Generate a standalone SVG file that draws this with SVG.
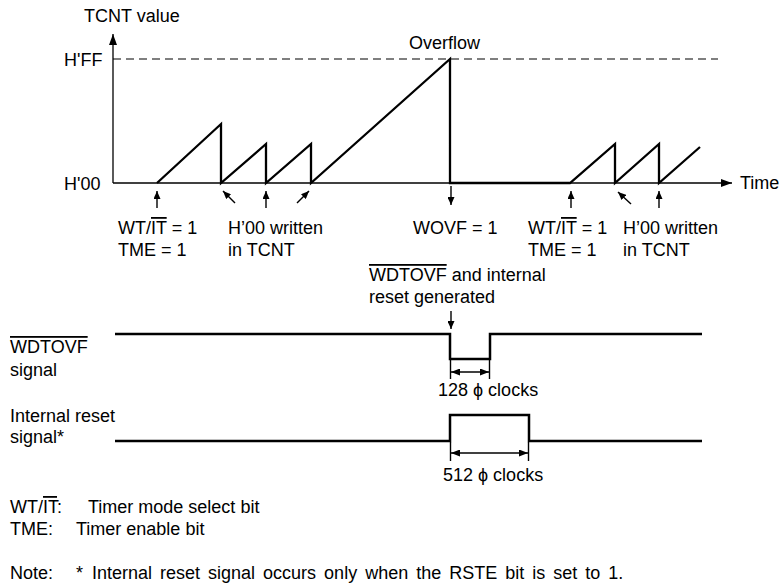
<svg xmlns="http://www.w3.org/2000/svg" width="783" height="587" viewBox="0 0 783 587">
<style>
text{font-family:"Liberation Sans",Arial,sans-serif;font-size:18px;fill:#000}
.ol{text-decoration:overline}
.ax{stroke:#000;stroke-width:1.3;fill:none}
.saw{stroke:#000;stroke-width:2.3;fill:none;stroke-linejoin:miter}
.sig{stroke:#000;stroke-width:2.5;fill:none}
.ar{stroke:#000;stroke-width:1.4;fill:none}
</style>
<defs>
<marker id="big" viewBox="0 0 11 8" refX="11" refY="4" markerWidth="11" markerHeight="8" markerUnits="userSpaceOnUse" orient="auto"><path d="M0,0 L11,4 L0,8 z" fill="#000"/></marker>
<marker id="sm" viewBox="0 0 8 7" refX="8" refY="3.5" markerWidth="8" markerHeight="7" markerUnits="userSpaceOnUse" orient="auto"><path d="M0,0 L8,3.5 L0,7 z" fill="#000"/></marker>
<marker id="dim" viewBox="0 0 9 7" refX="9" refY="3.5" markerWidth="9" markerHeight="7" markerUnits="userSpaceOnUse" orient="auto-start-reverse"><path d="M0,0 L9,3.5 L0,7 z" fill="#000"/></marker>
</defs>

<g id="axes">
<line class="ax" x1="113" y1="183" x2="113" y2="34" marker-end="url(#big)"/>
<line class="ax" x1="113" y1="183" x2="732" y2="183" marker-end="url(#big)"/>
<line x1="113" y1="59" x2="718" y2="59" stroke="#000" stroke-width="1.2" stroke-dasharray="8,5"/>
<text x="84" y="22">TCNT value</text>
<text x="64" y="66">H'FF</text>
<text x="64" y="190">H'00</text>
<text x="740" y="189">Time</text>
<text x="409" y="49">Overflow</text>
</g>

<g id="tcnt-count">
<path class="saw" d="M157,183 L221,124 L221,183 L266,144 L266,183 L311,144 L311,183 L450,59 L450,183 L570,183 L615,144 L615,183 L659,144 L659,183 L700,147"/>
</g>

<g id="connectors">
<line class="ar" x1="157" y1="208" x2="157" y2="191" marker-end="url(#sm)"/>
<line class="ar" x1="235" y1="203" x2="223" y2="191" marker-end="url(#sm)"/>
<line class="ar" x1="266" y1="208" x2="266" y2="191" marker-end="url(#sm)"/>
<line class="ar" x1="297" y1="203" x2="309" y2="191" marker-end="url(#sm)"/>
<line class="ar" x1="451" y1="186" x2="451" y2="205" marker-end="url(#sm)"/>
<line class="ar" x1="571" y1="208" x2="571" y2="191" marker-end="url(#sm)"/>
<line class="ar" x1="631" y1="204" x2="618" y2="192" marker-end="url(#sm)"/>
<line class="ar" x1="659" y1="208" x2="659" y2="191" marker-end="url(#sm)"/>
<line class="ar" x1="451" y1="311" x2="451" y2="329" marker-end="url(#sm)"/>
<line class="ar" x1="451" y1="372" x2="489" y2="372" marker-start="url(#dim)" marker-end="url(#dim)"/>
<line class="ar" x1="451" y1="453" x2="528" y2="453" marker-start="url(#dim)" marker-end="url(#dim)"/>
<line class="ar" x1="450.5" y1="360" x2="450.5" y2="379"/>
<line class="ar" x1="489.5" y1="360" x2="489.5" y2="379"/>
<line class="ar" x1="450.5" y1="442" x2="450.5" y2="461"/>
<line class="ar" x1="528.5" y1="442" x2="528.5" y2="461"/>
</g>

<g id="labels-top">
<text x="118" y="234">WT/<tspan class="ol">IT</tspan> = 1</text>
<text x="118" y="256">TME = 1</text>
<text x="228" y="234">H’00 written</text>
<text x="228" y="256">in TCNT</text>
<text x="413" y="234">WOVF = 1</text>
<text x="528" y="234">WT/<tspan class="ol">IT</tspan> = 1</text>
<text x="528" y="256">TME = 1</text>
<text x="623" y="234">H’00 written</text>
<text x="623" y="256">in TCNT</text>
<text x="369" y="281"><tspan class="ol">WDTOVF</tspan> and internal</text>
<text x="369" y="303">reset generated</text>
</g>

<g id="wdtovf-signal">
<path class="sig" d="M115,334 L450,334 L450,359 L490,359 L490,334 L702,334"/>
<text x="10" y="353" class="ol">WDTOVF</text>
<text x="10" y="376">signal</text>
<text x="438" y="396">128 ϕ clocks</text>
</g>

<g id="internal-reset-signal">
<path class="sig" d="M115,441 L450,441 L450,415 L529,415 L529,441 L702,441"/>
<text x="10" y="422">Internal reset</text>
<text x="10" y="443">signal*</text>
<text x="443" y="481">512 ϕ clocks</text>
</g>

<g id="legend">
<text x="10" y="513">WT/<tspan class="ol">IT</tspan>:</text>
<text x="88" y="513">Timer mode select bit</text>
<text x="10" y="535">TME:</text>
<text x="76" y="535">Timer enable bit</text>
<text x="10" y="579">Note:</text>
<text x="76" y="579">*</text>
<text x="92" y="579" word-spacing="3">Internal reset signal occurs only when the RSTE bit is set to 1.</text>
</g>
</svg>
